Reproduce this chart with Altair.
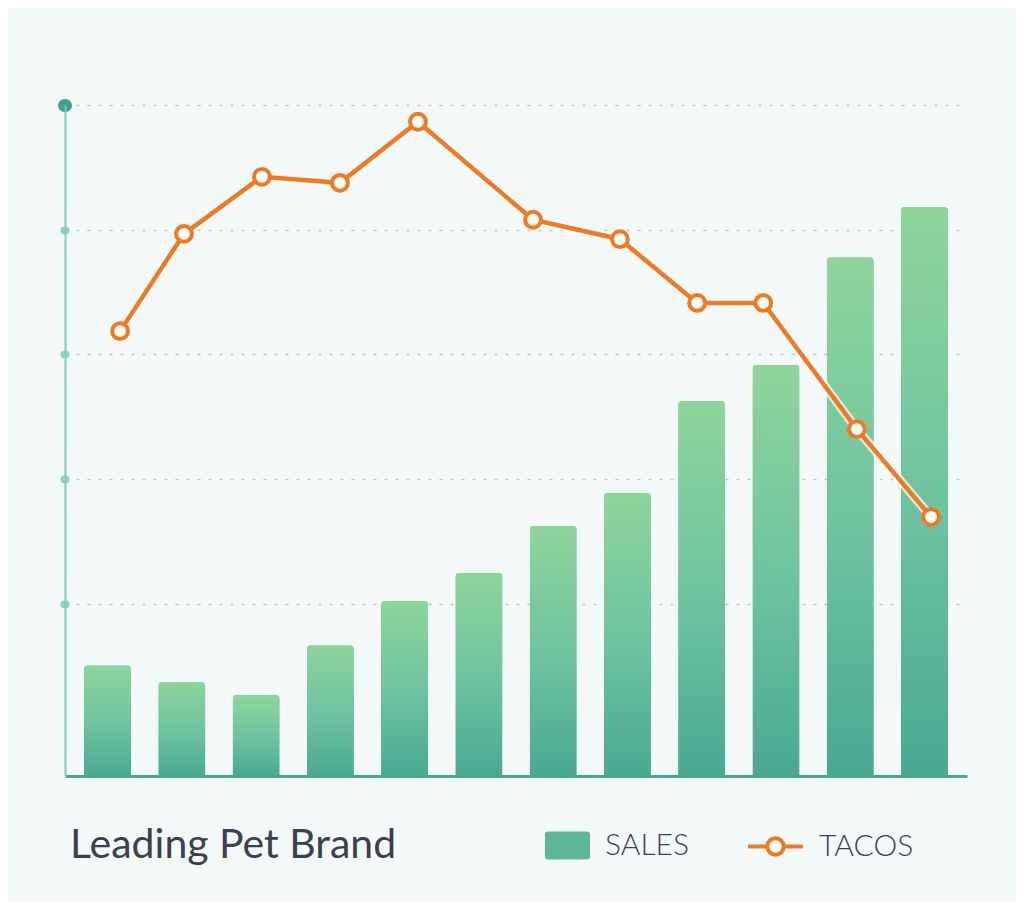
import altair as alt
import pandas as pd

# ---- data ----
months = ["M1", "M2", "M3", "M4", "M5", "M6", "M7", "M8", "M9", "M10", "M11", "M12"]
sales = [16.5, 14.0, 12.1, 19.5, 26.1, 30.3, 37.3, 42.2, 55.9, 61.3, 77.3, 84.8]

tacos_pos = [0.17, 1.03, 2.08, 3.13, 4.18, 5.73, 6.90, 7.94, 8.83, 10.09, 11.09]
tacos = [66.3, 80.8, 89.3, 88.4, 97.5, 82.9, 80.0, 70.5, 70.5, 51.7, 38.6]

grid_values = [25.6, 44.3, 62.9, 81.4, 100]

bars_df = pd.DataFrame({"month": months, "value": sales, "series": "SALES"})
line_df = pd.DataFrame({"pos": tacos_pos, "value": tacos, "series": "TACOS"})

W, H = 902, 671
FONT = "Lato"
TEXT = "#3b404c"
ORANGE = "#f07a22"

bar_gradient = {
    "gradient": "linear",
    "x1": 0, "x2": 0, "y1": 0, "y2": 1,
    "stops": [
        {"offset": 0, "color": "#8fd59b"},
        {"offset": 0.55, "color": "#6cc2a0"},
        {"offset": 1, "color": "#4aa893"},
    ],
}

yscale = alt.Scale(domain=[0, 100], nice=False, zero=True)
bandscale = alt.Scale(paddingInner=0.367, paddingOuter=0.256)

rect_path = ("M-0.88,-0.62 H0.88 A0.12,0.12 0 0 1 1,-0.5 V0.5 A0.12,0.12 0 0 1 0.88,0.62 "
             "H-0.88 A0.12,0.12 0 0 1 -1,0.5 V-0.5 A0.12,0.12 0 0 1 -0.88,-0.62 Z")
linecirc_path = ("M-1,0 H-0.3 M0.3,0 H1 M-0.3,0 A0.3,0.3 0 1 0 0.3,0 "
                 "A0.3,0.3 0 1 0 -0.3,0 Z")

legend_common = dict(title=None, orient="none", labelFont=FONT, labelFontSize=30,
                     labelFontWeight=300, labelColor=TEXT, padding=0)

xband = alt.X("month:N", sort=months, scale=bandscale,
              axis=alt.Axis(labels=False, ticks=False, grid=False, title=None,
                            domainColor="#4aa68f", domainWidth=3))
xband_noaxis = alt.X("month:N", sort=months, scale=bandscale, axis=None)
yaxis = alt.Axis(labels=False, title=None, values=grid_values,
                 grid=True, gridDash=[3, 8], gridColor="#b3caca", gridWidth=1.6,
                 domainColor="#86c9bc", domainWidth=2,
                 tickSize=1, tickCap="round",
                 tickColor={"condition": {"test": "datum.value >= 99", "value": "#3f9f8a"},
                            "value": "#93d0c4"},
                 tickWidth={"condition": {"test": "datum.value >= 99", "value": 13},
                            "value": 8})
yall = alt.Y("value:Q", scale=yscale, axis=yaxis)

# solid layer underneath: carries the SALES legend
bars_base = alt.Chart(bars_df).mark_bar(
    cornerRadiusTopLeft=4, cornerRadiusTopRight=4
).encode(
    x=xband, y=yall,
    color=alt.Color("series:N",
                    scale=alt.Scale(domain=["SALES"], range=["#5db797"]),
                    legend=alt.Legend(legendX=480, legendY=718,
                                      symbolType=rect_path, symbolSize=2025,
                                      symbolStrokeWidth=0, labelOffset=15,
                                      **legend_common)),
)

bars = alt.Chart(bars_df).mark_bar(
    cornerRadiusTopLeft=4, cornerRadiusTopRight=4, fill=bar_gradient
).encode(x=xband_noaxis, y=yall)

xline = alt.X("pos:Q", scale=alt.Scale(domain=[-0.572, 11.573], nice=False, zero=False),
              axis=None)

halo = alt.Chart(line_df).mark_line(color="white", strokeWidth=9, opacity=0.7).encode(
    x=xline, y=yall)

line = alt.Chart(line_df).mark_line(strokeWidth=4.5).encode(
    x=xline, y=yall,
    color=alt.Color("series:N",
                    scale=alt.Scale(domain=["TACOS"], range=[ORANGE]),
                    legend=alt.Legend(legendX=681, legendY=712,
                                      symbolType=linecirc_path, symbolSize=3025,
                                      symbolStrokeWidth=4, symbolFillColor="white",
                                      labelOffset=14, **legend_common)),
)

points = alt.Chart(line_df).mark_point(
    filled=False, fill="white", fillOpacity=1, stroke=ORANGE, strokeWidth=4,
    size=250, opacity=1
).encode(x=xline, y=yall)

chart = alt.layer(bars_base, bars, halo, line, points).resolve_scale(
    x="independent", color="independent"
).properties(
    width=W, height=H,
    padding={"left": 57, "top": 97, "right": 49, "bottom": 126},
    autosize=alt.AutoSizeParams(type="none"),
    background="#f3f9f9",
    title=alt.TitleParams("Leading Pet Brand", orient="top", anchor="start", frame="group",
                          font=FONT, fontSize=41, fontWeight=400, color=TEXT,
                          baseline="alphabetic", offset=0, dx=5, dy=800),
).configure_view(stroke=None)

chart.save("out.html", embed_options={"renderer": "svg", "actions": False})
